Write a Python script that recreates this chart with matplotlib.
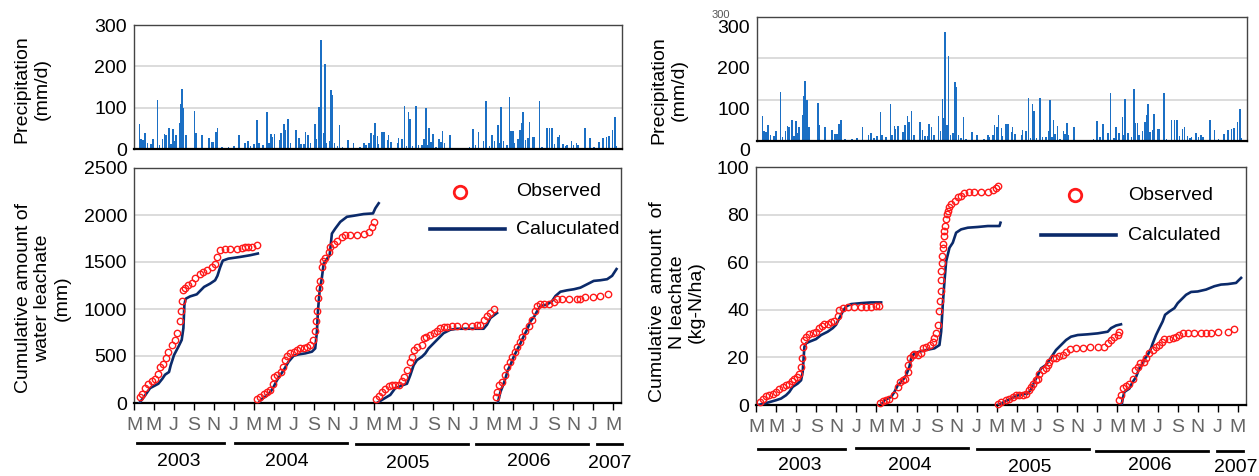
import matplotlib
matplotlib.use("Agg")
import numpy as np
import matplotlib.pyplot as plt
import matplotlib.transforms as mtransforms
from matplotlib.lines import Line2D

plt.rcParams["font.family"] = ["Liberation Sans", "DejaVu Sans"]

W, H = 1259, 476

# x is months counted from March 2003
MONTH_TICKS = list(range(0, 49, 2))
MONTH_LABELS = ["M", "M", "J", "S", "N", "J"] * 4 + ["M"]
YEARS = ["2003", "2004", "2005", "2006", "2007"]

# daily precipitation (mm/d), visible bars
PRECIP_MONTH = [
    0.53, 0.67, 0.87, 1.10, 1.34, 1.67, 1.87, 2.34, 2.54, 2.84, 3.04, 3.21, 3.48, 3.68,
    3.88, 4.05, 4.21, 4.55, 4.68, 4.81, 4.95, 5.18, 6.05, 6.19, 6.79, 7.02, 7.49, 7.79,
    7.96, 8.19, 8.36, 8.79, 9.46, 9.97, 10.50, 11.10, 11.37, 11.63, 11.97, 12.30, 12.47,
    12.87, 13.31, 13.47, 13.71, 13.81, 14.04, 14.54, 14.71, 14.98, 15.15, 15.38, 15.65,
    16.22, 16.48, 16.72, 16.98, 17.15, 17.39, 17.65, 18.09, 18.26, 18.49, 18.59, 18.72,
    18.93, 19.09, 19.26, 19.53, 19.69, 19.83, 20.06, 20.33, 20.56, 20.83, 21.40, 21.93,
    22.60, 23.00, 23.17, 23.50, 23.67, 23.93, 24.07, 24.34, 24.44, 24.77, 25.01, 25.34,
    25.44, 25.68, 26.35, 26.45, 26.78, 27.05, 27.25, 27.45, 27.58, 27.85, 28.18, 28.45,
    28.79, 29.02, 29.19, 29.35, 29.52, 29.69, 29.92, 30.18, 30.52, 30.69, 30.86, 31.03,
    31.59, 31.80, 32.86, 33.53, 33.87, 34.13, 34.43, 34.93, 35.20, 35.54, 35.77, 36.04,
    36.41, 36.54, 36.68, 36.94, 37.28, 37.55, 37.71, 37.88, 38.05, 38.38, 38.62, 38.78,
    38.92, 39.15, 39.38, 39.55, 39.89, 40.05, 40.55, 40.79, 41.29, 41.56, 41.82, 42.06,
    42.39, 42.56, 42.89, 43.13, 43.29, 43.73, 43.96, 44.23, 44.40, 45.10, 45.57, 45.97,
    46.23, 46.50, 46.91, 47.24, 47.51, 47.84, 48.11, 48.24,
]
PRECIP_MM = [
    60, 23, 22, 38, 14, 12, 25, 119, 10, 24, 36, 34, 50, 12,
    48, 20, 33, 62, 110, 145, 98, 34, 93, 38, 35, 3, 27, 18,
    18, 42, 51, 4, 4, 7, 34, 15, 19, 7, 12, 70, 14,
    10, 90, 14, 36, 28, 36, 22, 38, 60, 46, 73, 14,
    46, 26, 12, 12, 42, 34, 14, 60, 25, 101, 56, 264,
    38, 206, 14, 20, 143, 131, 14, 7, 57, 4, 22, 15,
    4, 14, 9, 15, 38, 34, 62, 31, 12, 42, 42, 22,
    34, 18, 14, 26, 23, 104, 7, 90, 72, 7, 104, 10,
    10, 25, 98, 10, 50, 18, 36, 4, 23, 18, 44, 14,
    33, 3, 2, 4, 48, 10, 42, 20, 116, 7, 33, 20,
    57, 14, 102, 20, 10, 125, 44, 44, 15, 23, 46, 62,
    90, 22, 26, 65, 28, 30, 116, 4, 52, 50, 52, 12,
    28, 34, 12, 7, 10, 20, 10, 15, 10, 51, 26, 6,
    3, 18, 26, 28, 31, 46, 77, 8,
]

# cumulative water leachate (mm)
WATER_CALC_M = [
    [0.54, 1.10, 1.61, 2.44, 2.84, 3.11, 3.51, 3.68, 4.01, 4.45, 4.78, 4.95, 5.05, 5.18,
     5.62, 6.29, 6.62, 7.02, 7.63, 8.13, 8.36, 8.63, 8.90, 9.46, 10.64, 11.64, 12.41],
    [12.47, 12.81, 13.31, 13.65, 13.98, 14.31, 14.65, 15.05, 15.48, 15.99, 16.49, 17.16,
     17.83, 18.16, 18.33, 18.43, 18.60, 18.83, 19.00, 19.33, 19.60, 19.83, 20.17, 20.67,
     21.34, 22.01, 23.01, 23.95, 24.18, 24.52],
    [24.34, 25.00, 25.68, 26.18, 26.85, 27.35, 27.68, 28.02, 28.35, 28.85, 29.19, 29.52,
     30.02, 30.52, 31.02, 31.69, 32.37, 33.70, 35.03, 35.37, 35.71, 36.38],
    [36.44, 36.71, 37.04, 37.21, 37.45, 37.71, 38.05, 38.38, 38.65, 38.88, 39.12, 39.38,
     39.72, 40.12, 40.39, 40.72, 41.39, 41.89, 42.23, 42.73, 43.40, 44.07, 44.73, 45.40,
     46.07, 46.74, 47.41, 47.91, 48.35],
]
WATER_CALC_V = [
    [0, 79, 158, 205, 258, 301, 330, 402, 510, 599, 671, 797, 1048, 1109,
     1134, 1156, 1192, 1235, 1270, 1306, 1353, 1443, 1515, 1536, 1554, 1572, 1590],
    [0, 43, 79, 115, 169, 240, 294, 359, 438, 502, 517, 528,
     546, 581, 761, 976, 1192, 1335, 1479, 1533, 1568, 1802, 1856, 1927,
     1981, 1992, 2010, 2017, 2071, 2125],
    [0, 43, 86, 158, 187, 205, 294, 402, 456, 492, 528, 581,
     635, 689, 743, 779, 790, 790, 790, 833, 904, 958],
    [0, 115, 205, 258, 348, 402, 492, 563, 617, 671, 725, 779,
     868, 922, 976, 1030, 1048, 1084, 1138, 1184, 1199, 1210, 1227, 1263,
     1299, 1306, 1317, 1353, 1425],
]
WATER_OBS_M = [
    [0.60, 0.77, 1.10, 1.44, 1.77, 2.11, 2.44, 2.61, 2.94, 3.21, 3.44, 3.78, 4.11, 4.35,
     4.62, 4.68, 4.78, 4.88, 5.12, 5.45, 5.79, 6.12, 6.62, 6.96, 7.36, 7.79, 8.13, 8.36,
     8.63, 9.13, 9.63, 10.30, 10.80, 11.14, 11.47, 11.81, 12.31],
    [12.31, 12.64, 12.98, 13.31, 13.65, 13.91, 14.05, 14.31, 14.72, 14.98, 15.15, 15.32,
     15.65, 15.99, 16.32, 16.66, 16.99, 17.32, 17.66, 17.93, 18.16, 18.26, 18.33, 18.43,
     18.49, 18.66, 18.83, 18.93, 19.16, 19.50, 19.67, 20.00, 20.33, 20.84, 21.17, 21.67,
     22.34, 23.01, 23.51, 23.85, 24.01],
    [24.27, 24.51, 24.84, 25.18, 25.51, 25.84, 26.18, 26.51, 26.85, 27.01, 27.35, 27.62,
     27.85, 28.08, 28.35, 28.85, 29.02, 29.29, 29.62, 30.02, 30.36, 30.69, 31.02, 31.36,
     31.86, 32.37, 33.20, 33.87, 34.37, 34.70, 35.04, 35.37, 35.71, 36.11],
    [36.31, 36.38, 36.54, 36.88, 37.21, 37.38, 37.65, 37.88, 38.21, 38.38, 38.65, 38.88,
     39.22, 39.55, 39.89, 40.22, 40.39, 40.72, 41.06, 41.56, 42.06, 42.39, 42.90, 43.56,
     44.40, 44.73, 45.24, 46.01, 46.74, 47.48],
]
WATER_OBS_V = [
    [61, 97, 158, 205, 230, 258, 312, 384, 420, 481, 545, 617, 671, 743,
     868, 976, 1084, 1199, 1220, 1256, 1281, 1335, 1371, 1389, 1414, 1443, 1479, 1551,
     1629, 1640, 1640, 1640, 1644, 1658, 1658, 1658, 1683],
    [43, 61, 97, 115, 133, 205, 276, 294, 330, 384, 456, 502,
     528, 546, 563, 581, 589, 599, 617, 671, 761, 868, 976, 1120,
     1227, 1299, 1443, 1515, 1543, 1604, 1658, 1694, 1723, 1766, 1784, 1784,
     1784, 1802, 1820, 1874, 1927],
    [43, 79, 115, 151, 179, 187, 187, 194, 230, 276, 348, 438,
     492, 563, 599, 617, 689, 707, 725, 743, 768, 797, 807, 811,
     822, 822, 822, 822, 833, 833, 886, 922, 958, 1005],
    [61, 115, 194, 222, 294, 384, 438, 492, 546, 599, 653, 707,
     761, 815, 886, 976, 1030, 1048, 1048, 1055, 1077, 1102, 1109, 1109,
     1109, 1109, 1127, 1127, 1138, 1163],
]

# cumulative N leachate (kg-N/ha)
N_CALC_M = [
    [0.23, 1.16, 1.99, 2.49, 2.99, 3.32, 3.65, 4.15, 4.49, 4.65, 4.82, 4.98, 5.32, 5.98,
     6.48, 7.14, 7.64, 7.97, 8.31, 8.64, 8.97, 9.47, 10.47, 11.46, 12.46],
    [12.46, 12.79, 13.46, 13.79, 14.12, 14.62, 14.95, 15.28, 15.45, 15.78, 16.28, 16.94,
     17.77, 18.27, 18.44, 18.60, 18.77, 18.94, 19.27, 19.60, 19.93, 20.43, 21.10, 22.09,
     23.09, 24.25, 24.35],
    [24.07, 24.73, 25.40, 25.90, 26.39, 27.06, 27.39, 27.72, 28.05, 28.39, 28.88, 29.22,
     29.55, 29.88, 30.38, 30.88, 31.37, 32.04, 33.03, 34.03, 35.03, 35.36, 35.86, 36.35],
    [36.42, 36.52, 36.69, 37.18, 37.52, 37.85, 38.18, 38.51, 38.75, 39.01, 39.34, 39.51,
     39.84, 40.17, 40.50, 40.74, 41.17, 41.67, 42.00, 42.33, 42.83, 43.33, 43.99, 44.82,
     45.65, 46.31, 46.98, 47.81, 48.14, 48.31],
]
N_CALC_V = [
    [0, 1.0, 2.0, 2.7, 4.1, 5.5, 7.6, 9.0, 10.4, 13.9, 24.5, 25.9, 26.6, 27.7,
     29.4, 30.8, 32.3, 33.7, 36.5, 39.3, 41.4, 42.4, 42.8, 43.1, 43.1],
    [0, 2.0, 3.4, 5.5, 8.3, 10.4, 12.5, 16.1, 19.6, 21.7, 22.4, 23.1,
     23.8, 25.2, 30.8, 42.1, 52.0, 60.4, 66.1, 68.2, 72.4, 73.8, 74.5, 74.8,
     75.2, 75.2, 76.6],
    [0, 1.3, 2.7, 3.8, 4.4, 4.8, 6.6, 9.7, 12.5, 15.4, 16.8, 18.9,
     21.0, 23.1, 25.2, 27.3, 28.7, 29.4, 29.7, 30.1, 30.8, 32.3, 33.4, 33.9],
    [0, 2.7, 5.5, 6.9, 9.7, 11.8, 15.4, 17.5, 19.6, 21.0, 23.8, 25.9,
     29.4, 32.3, 35.1, 37.9, 39.3, 40.7, 42.8, 44.2, 46.3, 47.5, 47.7, 48.5,
     49.9, 50.6, 50.8, 51.3, 52.7, 53.4],
]
N_OBS_M = [
    [0.43, 0.66, 1.00, 1.33, 1.66, 1.99, 2.33, 2.66, 2.99, 3.32, 3.55, 3.82, 4.05, 4.32,
     4.49, 4.58, 4.72, 4.82, 4.98, 5.32, 5.65, 5.98, 6.31, 6.54, 6.81, 7.14, 7.48, 7.81,
     8.14, 8.31, 8.64, 9.14, 9.80, 10.47, 10.96, 11.46, 11.96, 12.29],
    [12.39, 12.62, 12.96, 13.29, 13.79, 14.12, 14.39, 14.62, 14.85, 15.12, 15.18, 15.38,
     15.61, 15.78, 16.11, 16.45, 16.61, 16.94, 17.28, 17.61, 17.77, 17.94, 18.11, 18.27,
     18.34, 18.41, 18.44, 18.47, 18.50, 18.57, 18.64, 18.67, 18.70, 18.77, 18.84, 18.94,
     19.00, 19.10, 19.27, 19.44, 19.77, 20.10, 20.43, 20.76, 21.26, 21.76, 22.43, 23.09,
     23.59, 23.92, 24.15],
    [24.07, 24.40, 24.90, 25.23, 25.56, 25.90, 26.23, 26.56, 26.89, 27.22, 27.39, 27.56,
     27.89, 28.05, 28.22, 28.55, 28.88, 29.05, 29.22, 29.55, 29.88, 30.21, 30.54, 30.88,
     31.31, 31.87, 32.54, 33.30, 34.10, 34.69, 35.03, 35.36, 35.69, 36.02, 36.19],
    [36.19, 36.35, 36.52, 36.85, 37.18, 37.52, 37.75, 38.01, 38.28, 38.61, 38.84, 39.18,
     39.51, 39.84, 40.17, 40.40, 40.67, 41.17, 41.50, 41.83, 42.16, 42.50, 42.99, 43.66,
     44.32, 44.82, 45.32, 46.05, 46.98, 47.64],
]
N_OBS_V = [
    [1.3, 2.7, 3.8, 4.4, 4.8, 5.5, 6.6, 7.6, 8.3, 9.0, 10.0, 11.1, 11.8, 13.2,
     16.1, 19.6, 24.5, 27.3, 28.7, 29.7, 30.1, 30.8, 32.3, 33.0, 33.9, 33.9, 34.8, 35.4,
     37.2, 40.0, 40.7, 41.0, 41.0, 41.0, 41.0, 41.0, 41.4, 41.8],
    [1.0, 1.5, 2.0, 2.7, 4.1, 7.6, 9.7, 10.4, 11.1, 13.9, 16.8, 19.6,
     21.0, 21.3, 21.0, 21.7, 23.8, 24.5, 25.2, 26.6, 28.0, 30.1, 33.7, 39.3,
     43.5, 47.7, 52.7, 56.2, 59.7, 62.5, 66.1, 67.5, 71.0, 73.1, 75.2, 78.0,
     80.1, 81.5, 83.2, 84.4, 85.8, 87.2, 87.9, 88.9, 89.7, 89.7, 89.7, 89.7,
     90.3, 91.1, 92.1],
    [0.6, 1.3, 2.0, 2.7, 3.4, 4.1, 4.4, 4.4, 4.8, 6.2, 7.6, 9.0,
     10.4, 11.1, 13.2, 14.6, 15.4, 16.8, 18.2, 19.9, 19.9, 20.7, 21.0, 22.4,
     23.5, 24.1, 24.1, 24.5, 24.5, 24.5, 25.9, 27.3, 28.7, 29.4, 30.8],
    [2.0, 4.1, 7.2, 8.0, 9.0, 11.1, 14.6, 16.1, 17.5, 18.2, 19.9, 21.7,
     23.1, 24.5, 25.2, 26.6, 27.7, 27.7, 28.0, 28.7, 29.4, 30.1, 30.1, 30.1,
     30.1, 30.1, 30.1, 30.8, 30.8, 31.8],
]

RED = "#ff1a1a"
NAVY = "#0b2a6a"
BAR = "#1b6fc4"
GRID = "#d9d9d9"


def rect(x0, x1, top, bottom):
    return [x0 / W, 1 - bottom / H, (x1 - x0) / W, (bottom - top) / H]


def frame(ax):
    for s in ("top", "left", "right"):
        ax.spines[s].set_color("#444444")
        ax.spines[s].set_linewidth(1.0)
    ax.spines["bottom"].set_color("black")
    ax.spines["bottom"].set_linewidth(1.6)
    ax.set_xlim(0, 48.8)
    ax.yaxis.grid(True, color=GRID, lw=1.3)
    ax.set_axisbelow(True)
    ax.tick_params(axis="y", length=0, pad=5, labelsize=14)


def precip_axis(rc):
    ax = fig.add_axes(rect(*rc))
    frame(ax)
    ax.bar(PRECIP_MONTH, PRECIP_MM, width=0.16, color=BAR, lw=0)
    ax.set_ylim(0, 300)
    ax.set_yticks([0, 100, 200, 300])
    ax.set_xticks([])
    return ax


def leach_axis(rc, ymax, ystep, calc_m, calc_v, obs_m, obs_v):
    ax = fig.add_axes(rect(*rc))
    frame(ax)
    for cm, cv in zip(calc_m, calc_v):
        ax.plot(cm, cv, color=NAVY, lw=1.9, zorder=3)
    for om, ov in zip(obs_m, obs_v):
        ax.plot(om, ov, "o", ms=4.6, mfc="none", mec=RED, mew=1.0, zorder=4,
                clip_on=False)
    ax.set_ylim(0, ymax)
    ax.set_yticks(np.arange(0, ymax + 1, ystep))
    ax.set_xticks(MONTH_TICKS)
    ax.set_xticklabels(MONTH_LABELS)
    ax.tick_params(axis="x", direction="out", length=5, width=1.0, pad=5,
                   labelsize=14, labelcolor="#666666")
    return ax


def fig_line(x0, x1, y, lw=1.8, **kw):
    fig.add_artist(Line2D([x0 / W, x1 / W], [1 - y / H, 1 - y / H],
                          transform=fig.transFigure, **kw, lw=lw))


def fig_text(x, y, s, **kw):
    fig.text(x / W, 1 - y / H, s, **kw)


def legend(cx, cy, lx0, lx1, ly, tx, calc_label):
    fig.add_artist(Line2D([cx / W], [1 - cy / H], transform=fig.transFigure,
                          marker="o", ms=9, mfc="none", mec=RED, mew=2.0, ls="none"))
    fig_line(lx0, lx1, ly, lw=2.6, color=NAVY)
    fig_text(tx, cy, "Observed", fontsize=14, va="center", ha="left")
    fig_text(tx, ly, calc_label, fontsize=14, va="center", ha="left")


fig = plt.figure(figsize=(W / 100, H / 100), dpi=100)

# left panel
precip_axis((134, 622, 25, 149))
leach_axis((134, 621, 168, 403), 2500, 500,
           WATER_CALC_M, WATER_CALC_V, WATER_OBS_M, WATER_OBS_V)
fig_text(32, 89, "Precipitation\n(mm/d)", fontsize=14, rotation=90,
         ha="center", va="center", multialignment="center")
fig_text(43, 298, "Cumulative amount of\nwater leachate\n(mm)", fontsize=14,
         rotation=90, ha="center", va="center", multialignment="center")
legend(460, 192, 430, 505, 229, 516, "Caluculated")

# right panel
ax_rp = precip_axis((757, 1247, 17, 141))
shift = mtransforms.ScaledTranslation(0, -9 / 100, fig.dpi_scale_trans)
for lab in ax_rp.get_yticklabels():
    lab.set_transform(lab.get_transform() + shift)
fig_text(721, 15, "300", fontsize=8, color="#555555", ha="center", va="center")
leach_axis((756, 1246, 167, 405), 100, 20,
           N_CALC_M, N_CALC_V, N_OBS_M, N_OBS_V)
fig_text(669, 90, "Precipitation\n(mm/d)", fontsize=14, rotation=90,
         ha="center", va="center", multialignment="center")
fig_text(677, 302, "Cumulative  amount  of\nN leachate\n(kg-N/ha)", fontsize=14,
         rotation=90, ha="center", va="center", multialignment="center")
legend(1075, 195, 1041, 1116, 235, 1128, "Calculated")

# year brackets under the month letters
LEFT_YEAR_LINES = [(137, 224, 443), (235, 347, 443), (356, 468, 444), (476, 588, 444), (597, 622, 444)]
LEFT_YEAR_POS = [(179, 461), (287, 461), (408, 464), (529, 462), (610, 464)]
RIGHT_YEAR_LINES = [(758, 845, 448.5), (856, 968, 448), (977, 1089, 448.5), (1096, 1208, 451), (1217, 1243, 451)]
RIGHT_YEAR_POS = [(800, 465), (910, 466), (1030, 467), (1150, 466), (1236, 467)]
for lines, pos in ((LEFT_YEAR_LINES, LEFT_YEAR_POS), (RIGHT_YEAR_LINES, RIGHT_YEAR_POS)):
    for (x0, x1, y), (tx, ty), yr in zip(lines, pos, YEARS):
        fig_line(x0, x1, y, lw=2.0, color="black")
        fig_text(tx, ty, yr, fontsize=14, ha="center", va="center")

fig.savefig("out.png", dpi=100, facecolor="white")
